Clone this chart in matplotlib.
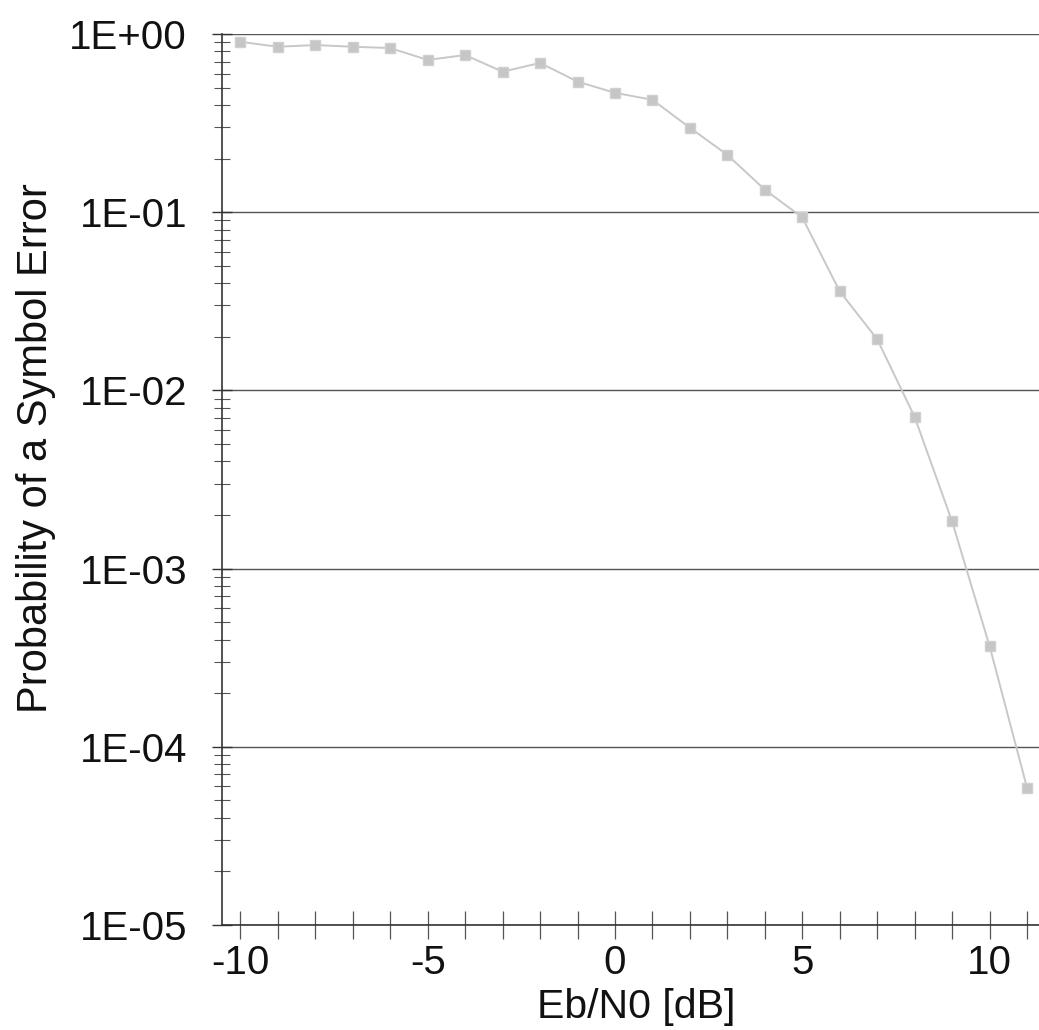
import numpy as np
import matplotlib.pyplot as plt
from matplotlib.ticker import FuncFormatter, LogLocator, MultipleLocator

# Eb/N0 values and measured symbol error probability
ebn0_db = [-10, -9, -8, -7, -6, -5, -4, -3, -2, -1, 0, 1, 2, 3, 4, 5, 6, 7, 8, 9, 10, 11]
p_symbol_err = [0.905, 0.849, 0.868, 0.849, 0.835, 0.716, 0.763, 0.615, 0.689, 0.541,
                0.468, 0.428, 0.298, 0.21, 0.134, 0.0935, 0.036, 0.0194, 0.0071,
                0.00184, 0.000368, 0.000059]
x_ticks = [-10, -5, 0, 5, 10]

plt.rcParams['font.family'] = ['Liberation Sans', 'DejaVu Sans']
plt.rcParams['axes.unicode_minus'] = False

fig = plt.figure(figsize=(10.39, 10.30), dpi=100)
ax = fig.add_axes([0.2141, 0.1019, 0.7859, 0.865])

ax.plot(ebn0_db, p_symbol_err, color='#c8c8c8', linewidth=1.4, marker='s',
        markersize=7.5, markerfacecolor='#c6c6c6', markeredgecolor='#d0d0d0')

ax.set_yscale('log')
ax.set_ylim(1e-5, 1)
ax.set_xlim(-10.48, 11.32)

ax.yaxis.set_major_locator(LogLocator(base=10, numticks=10))
ax.yaxis.set_minor_locator(LogLocator(base=10, subs=np.arange(2, 10), numticks=10))
ax.yaxis.set_major_formatter(FuncFormatter(lambda v, pos: f"1E{int(round(np.log10(v))):+03d}"))
ax.set_xticks(x_ticks)
ax.xaxis.set_minor_locator(MultipleLocator(1))

ax.grid(True, axis='y', which='major', color='#555555', linewidth=1.0)
for s in ['top', 'right']:
    ax.spines[s].set_visible(False)
for s in ['left', 'bottom']:
    ax.spines[s].set_color('#333333')
    ax.spines[s].set_linewidth(1.2)

ax.tick_params(axis='y', which='major', direction='inout', length=15, width=1,
               labelsize=29, pad=18, colors='#333333', labelcolor='#111111')
ax.tick_params(axis='y', which='minor', direction='inout', length=12, width=0.8, colors='#555555')
ax.tick_params(axis='x', which='both', direction='inout', length=20, width=0.9,
               labelsize=29, pad=4, colors='#555555', labelcolor='#111111')

ax.set_xlabel('Eb/N0 [dB]', fontsize=29.5, color='#111111', va='center')
ax.set_ylabel('Probability of a Symbol Error', fontsize=30, color='#111111', va='center')
ax.xaxis.set_label_coords(636 / 1039, 1 - 1007 / 1030, transform=fig.transFigure)
ax.yaxis.set_label_coords(36 / 1039, 1 - 448 / 1030, transform=fig.transFigure)

plt.savefig('out.png', dpi=100)
